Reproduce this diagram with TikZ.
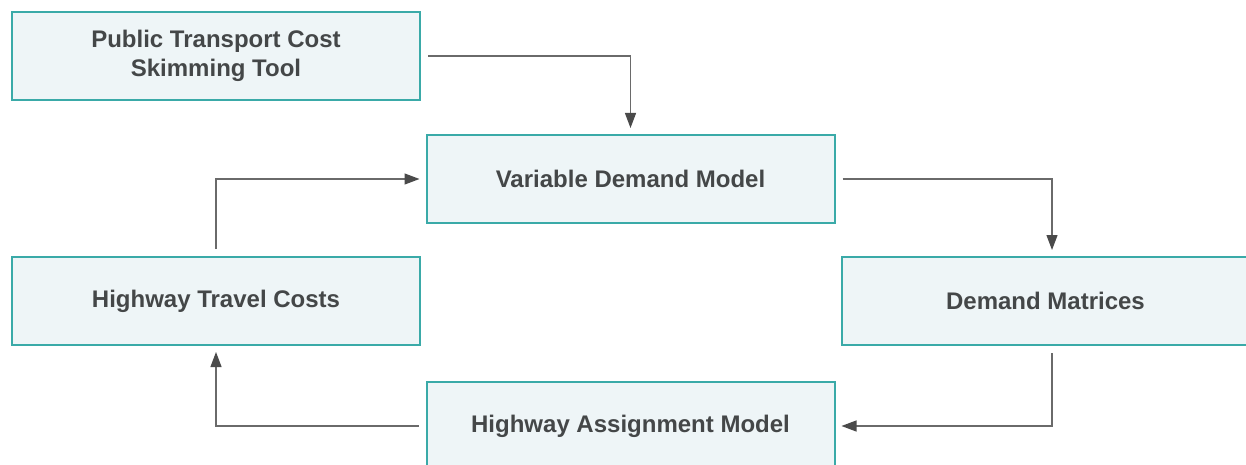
\documentclass[tikz,border=0pt]{standalone}
\usepackage{fontspec}
\setmainfont{Liberation Sans}
\usetikzlibrary{arrows.meta}
\definecolor{boxline}{HTML}{3AAAA8}
\definecolor{boxfill}{HTML}{EEF5F7}
\definecolor{txt}{HTML}{444748}
\definecolor{wire}{HTML}{6A6A6A}
\definecolor{tip}{HTML}{4A4A4A}
\begin{document}
\begin{tikzpicture}[x=1pt,y=-1pt,
  box/.style={draw=boxline, fill=boxfill, line width=2pt,
    minimum width=408pt, minimum height=88pt, inner sep=0pt,
    font=\fontsize{24}{29}\selectfont\bfseries, text=txt, align=center},
  link/.style={draw=wire, line width=1.2pt,
    -{Triangle[length=15pt,width=11pt,fill=tip,color=tip]},
    shorten <=7pt, shorten >=6pt}]
  \useasboundingbox (0,0) rectangle (1246,465);
  \clip (0,0) rectangle (1246,465);

  % process boxes
  \node[box] (pt)  at (216,56)    {Public Transport Cost\\Skimming Tool};
  \node[box] (vdm) at (630.5,179) {Variable Demand Model};
  \node[box] (dm)  at (1045.5,301) {Demand Matrices};
  \node[box] (htc) at (216,301)   {Highway Travel Costs};
  \node[box] (ham) at (630.5,426) {Highway Assignment Model};

  % connectors
  \draw[link] (pt.east) -| (vdm.north);
  \draw[link] (vdm.east) -| ([xshift=6.5pt]dm.north);
  \draw[link] ([xshift=6.5pt]dm.south) |- (ham.east);
  \draw[link] (ham.west) -| (htc.south);
  \draw[link] (htc.north) |- (vdm.west);
\end{tikzpicture}
\end{document}
